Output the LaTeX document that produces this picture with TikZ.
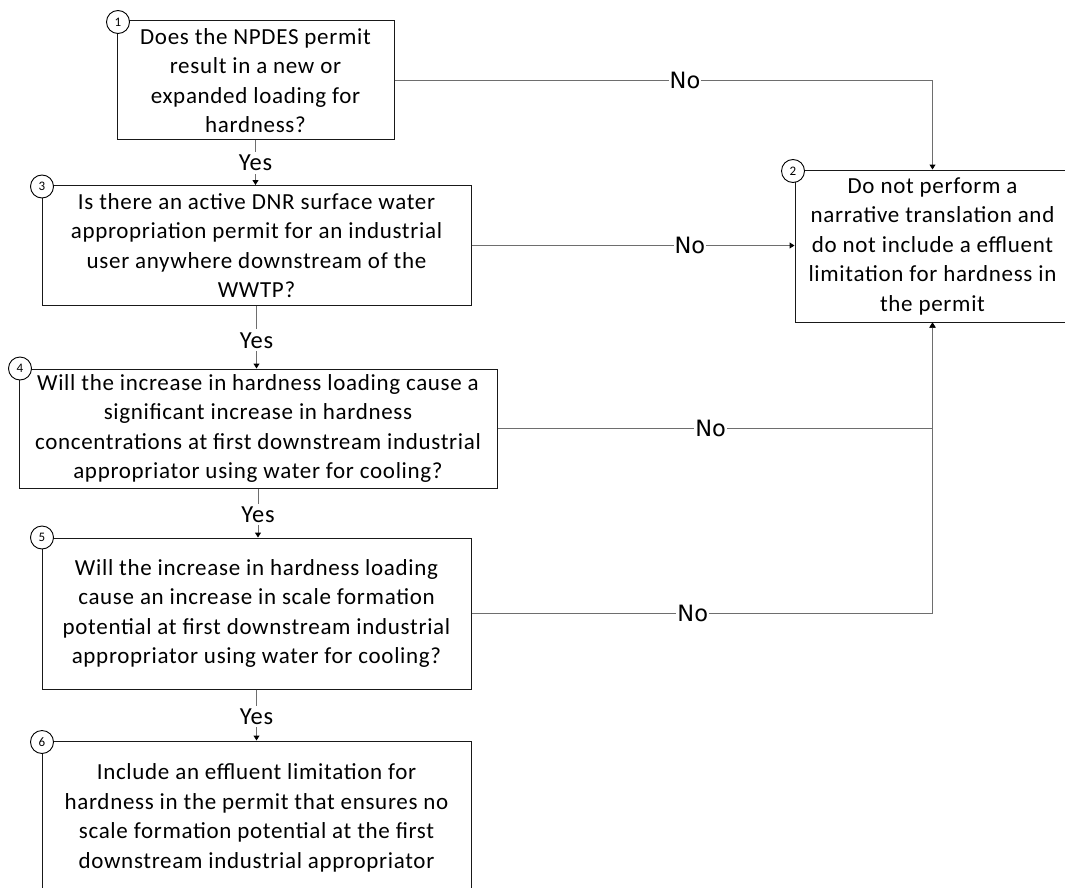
\documentclass[tikz,border=0pt]{standalone}
\usepackage{fontspec}
\setmainfont{Carlito}[LetterSpace=3]
\newfontfamily\nofont{DejaVu Sans}
\usetikzlibrary{arrows.meta}
\definecolor{linegray}{HTML}{6E6E6E}
\tikzset{
  box/.style={draw=black!90, line width=1pt, fill=white, align=center, inner sep=0pt,
    font=\fontsize{23}{29.5}\selectfont},
  numc/.style={draw=black, line width=0.9pt, fill=white, circle, minimum size=23pt, inner sep=0pt,
    font=\fontsize{13}{13}\selectfont},
  conn/.style={draw=linegray, line width=1pt, -{Triangle[width=6pt,length=5pt,color=black]}},
  yeslbl/.style={fill=white, inner sep=3pt, font=\fontsize{24.5}{24.5}\selectfont},
  nolbl/.style={fill=white, inner xsep=1pt, inner ysep=2pt, font=\nofont\fontsize{22.5}{22.5}\selectfont}
}
\begin{document}
\begin{tikzpicture}[x=1pt,y=-1pt]
\useasboundingbox (0,0) rectangle (1065,888);
\begin{scope}
\clip (0,0) rectangle (1065,888);
\node[box, minimum width=277pt, minimum height=119pt] (b1) at (255.5,80.5)
  {Does the NPDES permit\\result in a new or\\expanded loading for\\hardness?};
\node[box, minimum width=275pt, minimum height=152pt] (b2) at (932.5,246)
  {Do not perform a\\narrative translation and\\do not include a effluent\\limitation for hardness in\\the permit};
\node[box, minimum width=429pt, minimum height=120pt] (b3) at (256.5,245.5)
  {Is there an active DNR surface water\\appropriation permit for an industrial\\user anywhere downstream of the\\WWTP?};
\node[box, minimum width=478pt, minimum height=119pt] (b4) at (258,428.5)
  {Will the increase in hardness loading cause a\\significant increase in hardness\\concentrations at first downstream industrial\\appropriator using water for cooling?};
\node[box, minimum width=429pt, minimum height=151pt] (b5) at (256.5,613.5)
  {Will the increase in hardness loading\\cause an increase in scale formation\\potential at first downstream industrial\\appropriator using water for cooling?};
\node[box, minimum width=429pt, minimum height=154pt] (b6) at (256.5,818)
  {Include an effluent limitation for\\hardness in the permit that ensures no\\scale formation potential at the first\\downstream industrial appropriator};

% Yes connectors
\draw[conn] (b1.south) -- node[yeslbl, pos=0.5] {Yes} (b1.south |- b3.north);
\draw[conn] (b3.south) -- node[yeslbl, pos=0.55] {Yes} (b3.south |- b4.north);
\draw[conn] (b4.south) -- node[yeslbl, pos=0.53] {Yes} (b4.south |- b5.north);
\draw[conn] (b5.south) -- node[yeslbl, pos=0.53] {Yes} (b5.south |- b6.north);

% No connectors
\coordinate (c1) at (b1.east -| b2.north);
\coordinate (c4) at (b4.east -| b2.south);
\coordinate (c5) at (b5.east -| b2.south);
\draw[conn] (b1.east) -- node[nolbl, pos=0.54] {No} (c1) -- (b2.north);
\draw[conn] (b3.east) -- node[nolbl, pos=0.676] {No} (b3.east -| b2.west);
\draw[conn] (b4.east) -- node[nolbl, pos=0.49] {No} (c4) -- (b2.south);
\draw[conn] (b5.east) -- node[nolbl, pos=0.48] {No} (c5) -- (b2.south);

% numbered circles
\node[numc] (n1) at ([shift={(1.5,1.5)}]b1.north west) {1};
\node[numc] (n2) at ([shift={(-1.5,1.5)}]b2.north west) {2};
\node[numc] (n3) at ([shift={(0.5,1.5)}]b3.north west) {3};
\node[numc] (n4) at ([shift={(1.5,0)}]b4.north west) {4};
\node[numc] (n5) at ([shift={(0.5,0)}]b5.north west) {5};
\node[numc] (n6) at ([shift={(0.5,1.5)}]b6.north west) {6};
\end{scope}
\end{tikzpicture}
\end{document}
